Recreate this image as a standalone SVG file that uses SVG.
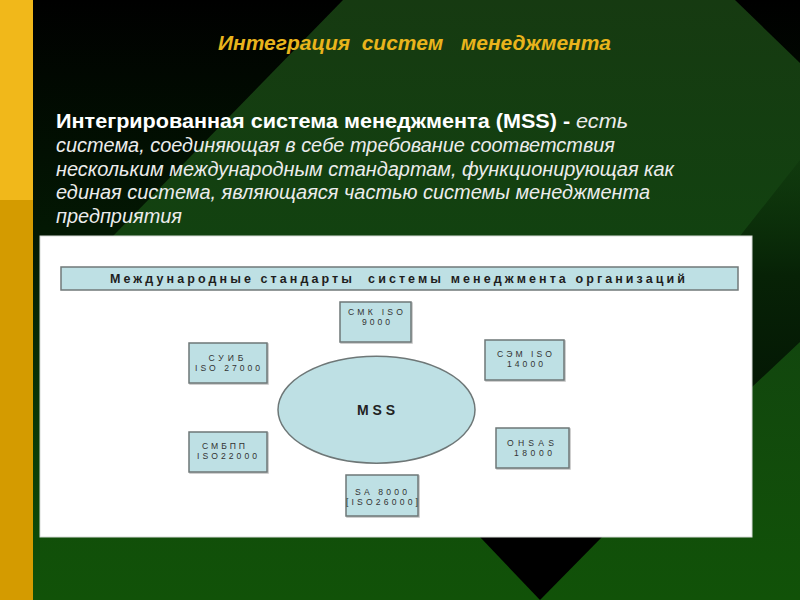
<svg xmlns="http://www.w3.org/2000/svg" width="800" height="600" viewBox="0 0 800 600">
<defs>
<linearGradient id="bg" x1="0" y1="0" x2="0" y2="600" gradientUnits="userSpaceOnUse">
<stop offset="0" stop-color="#000000"/>
<stop offset="0.38" stop-color="#031803"/>
<stop offset="0.9" stop-color="#0e4a08"/>
<stop offset="1" stop-color="#115208"/>
</linearGradient>
<linearGradient id="gr" x1="0" y1="0" x2="0" y2="600" gradientUnits="userSpaceOnUse">
<stop offset="0" stop-color="#163a11"/>
<stop offset="0.4" stop-color="#124210"/>
<stop offset="1" stop-color="#115208"/>
</linearGradient>
<linearGradient id="dk" x1="0" y1="160" x2="0" y2="390" gradientUnits="userSpaceOnUse">
<stop offset="0" stop-color="#0a2c08" stop-opacity="0.3"/>
<stop offset="0.5" stop-color="#072206"/>
<stop offset="1" stop-color="#041804"/>
</linearGradient>
<filter id="sh" x="-10%" y="-10%" width="130%" height="130%">
<feDropShadow dx="1" dy="1" stdDeviation="0.6" flood-color="#000" flood-opacity="0.25"/>
</filter>
</defs>
<style>
.title{font-family:"Liberation Sans",Arial,sans-serif;font-weight:bold;font-style:italic;font-size:20px;fill:#e9b41c;white-space:pre}
.para{font-family:"Liberation Sans",Arial,sans-serif;font-size:20.5px;fill:#ececec;font-style:italic}
.b{font-weight:bold;font-style:normal;fill:#ffffff}
.box{fill:#bee0e4;stroke:#6e7777;stroke-width:1.5;filter:url(#sh)}
.bt{font-family:"Liberation Sans",Arial,sans-serif;font-size:8.6px;fill:#333;text-anchor:middle}
.hdr{font-family:"Liberation Sans",Arial,sans-serif;font-size:12.5px;font-weight:bold;fill:#1e1e1e;white-space:pre}
.mss{font-family:"Liberation Sans",Arial,sans-serif;font-size:14px;font-weight:bold;fill:#222;text-anchor:middle}
</style>

<g id="background">
<rect x="0" y="0" width="800" height="600" fill="url(#bg)"/>
<polygon points="343,0 735,0 800,63 800,600 40,600 40,311" fill="url(#gr)"/>
<polygon points="740,236 800,160 800,342 752,387 752,236" fill="url(#dk)"/>
<polygon points="480,537 602,537 540,600" fill="#000"/>
<rect x="0" y="0" width="33" height="200" fill="#f1b81a"/>
<rect x="0" y="200" width="33" height="400" fill="#d49b00"/>
</g>

<g id="title">
<text class="title" x="218" y="50" textLength="393" lengthAdjust="spacingAndGlyphs">Интеграция  систем   менеджмента</text>
</g>

<g id="definition">
<text class="para" x="56" y="128" textLength="572" lengthAdjust="spacingAndGlyphs"><tspan class="b">Интегрированная система менеджмента (MSS) - </tspan>есть</text>
<text class="para" x="56" y="152" textLength="559" lengthAdjust="spacingAndGlyphs">система, соединяющая в себе требование соответствия</text>
<text class="para" x="56" y="175.5" textLength="618" lengthAdjust="spacingAndGlyphs">нескольким международным стандартам, функционирующая как</text>
<text class="para" x="56" y="199" textLength="594" lengthAdjust="spacingAndGlyphs">единая система, являющаяся частью системы менеджмента</text>
<text class="para" x="56" y="222.5" textLength="126" lengthAdjust="spacingAndGlyphs">предприятия</text>
</g>

<g id="panel">
<rect x="40" y="236" width="712" height="301" fill="#ffffff" stroke="#d8dcd8" stroke-width="1"/>
</g>

<g id="header">
<rect x="61" y="267" width="677" height="23" fill="#bee0e4" stroke="#707878" stroke-width="1.5"/>
<text class="hdr" x="110" y="282.5" textLength="575" lengthAdjust="spacing">Международные стандарты  системы менеджмента организаций</text>
</g>

<g id="connectors"></g>

<g id="node-mss">
<ellipse cx="376.5" cy="409.7" rx="98.5" ry="53.5" fill="#bee0e4" stroke="#6e7777" stroke-width="1.5"/>
<text class="mss" x="376" y="414.5" textLength="38" lengthAdjust="spacing">MSS</text>
</g>

<g id="node-smk">
<rect class="box" x="340" y="302" width="71" height="40"/>
<text class="bt" x="375.5" y="314.7" textLength="55" lengthAdjust="spacing">СМК ISO</text>
<text class="bt" x="376" y="324.7" textLength="28" lengthAdjust="spacing">9000</text>
</g>

<g id="node-suib">
<rect class="box" x="189" y="343" width="78" height="40"/>
<text class="bt" x="226" y="361" textLength="35" lengthAdjust="spacing">СУИБ</text>
<text class="bt" x="227.5" y="371" textLength="65" lengthAdjust="spacing">ISO 27000</text>
</g>

<g id="node-sem">
<rect class="box" x="485" y="340" width="79" height="40"/>
<text class="bt" x="524.5" y="357.2" textLength="55" lengthAdjust="spacing">СЭМ ISO</text>
<text class="bt" x="525" y="367.2" textLength="36" lengthAdjust="spacing">14000</text>
</g>

<g id="node-smbpp">
<rect class="box" x="189" y="432" width="78" height="40"/>
<text class="bt" x="223.5" y="448.5" textLength="43" lengthAdjust="spacing">СМБПП</text>
<text class="bt" x="227" y="458.5" textLength="60" lengthAdjust="spacing">ISO22000</text>
</g>

<g id="node-ohsas">
<rect class="box" x="496" y="428" width="73" height="40"/>
<text class="bt" x="530.5" y="446.3" textLength="47" lengthAdjust="spacing">OHSAS</text>
<text class="bt" x="533" y="456.3" textLength="38" lengthAdjust="spacing">18000</text>
</g>

<g id="node-sa">
<rect class="box" x="346" y="475" width="72" height="41"/>
<text class="bt" x="381" y="494.7" textLength="52" lengthAdjust="spacing">SA 8000</text>
<text class="bt" x="382" y="504.7" textLength="72" lengthAdjust="spacing">[ISO26000]</text>
</g>
</svg>
